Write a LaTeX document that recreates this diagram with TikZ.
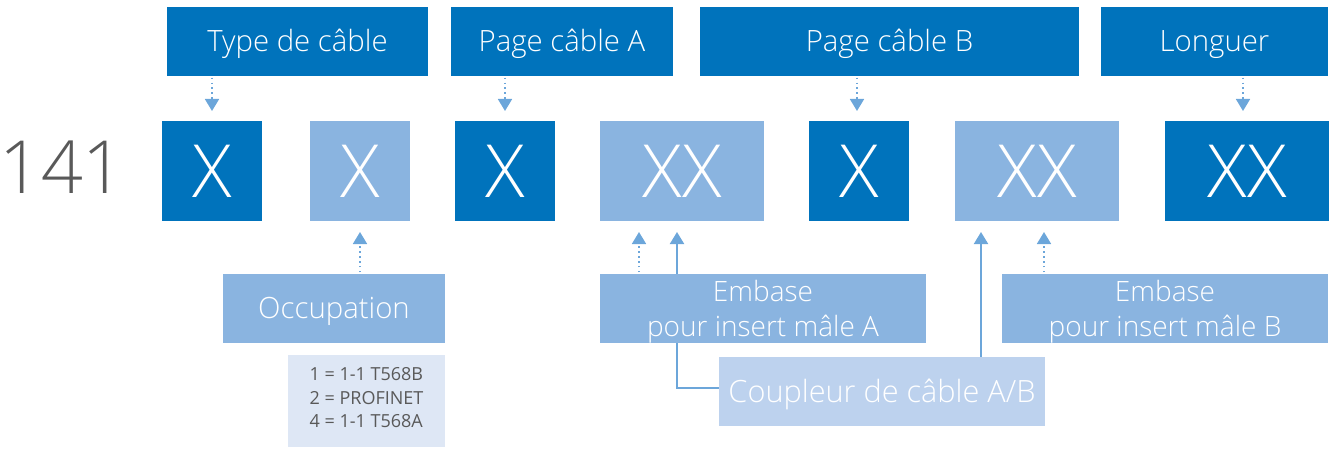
\documentclass[tikz,border=0pt]{standalone}
\usepackage{fontspec}
\IfFontExistsTF{Open Sans Light}{\setmainfont{Open Sans Light}}{\setmainfont{Open Sans}}
\newfontfamily\regfont{Open Sans}
\usetikzlibrary{arrows.meta,backgrounds}
\definecolor{cdark}{RGB}{0,115,188}
\definecolor{clight}{RGB}{138,180,224}
\definecolor{clighter}{RGB}{189,210,238}
\definecolor{clist}{RGB}{222,231,245}
\definecolor{carrow}{RGB}{108,166,218}
\definecolor{cgrey}{RGB}{89,89,89}
\begin{document}
\begin{tikzpicture}[x=0.75pt,y=-0.75pt,
  box/.style={inner sep=0pt, outer sep=0pt, text=white, align=center},
  hdr/.style={box, fill=cdark, minimum height=51.75pt, font=\fontsize{22}{26}\selectfont, text height=15.7pt, text depth=0pt},
  dig/.style={box, minimum height=75pt, font=\fontsize{55}{60}\selectfont, text height=39.3pt, text depth=0pt},
  dd/.style={dig, fill=cdark},
  dl/.style={dig, fill=clight},
  wone/.style={minimum width=75pt},
  wtwo/.style={minimum width=123pt},
  embase/.style={box, fill=clight, minimum width=244.5pt, minimum height=51.75pt},
  embtext/.style={inner sep=0pt, text=white, align=center, font=\fontsize{21}{26}\selectfont},
  occ/.style={box, fill=clight, minimum width=166.5pt, minimum height=51.75pt, font=\fontsize{22}{26}\selectfont, text height=15.7pt, text depth=0pt},
  coup/.style={box, fill=clighter, minimum width=244.5pt, minimum height=51.75pt, font=\fontsize{23}{27}\selectfont, text height=16.4pt, text depth=0pt},
  listbox/.style={inner sep=0pt, fill=clist, minimum width=117.75pt, minimum height=69pt},
  listtext/.style={inner sep=0pt, text=cgrey, align=left, font=\regfont\fontsize{13.5}{15.4}\selectfont},
  tipa/.style={-{Triangle[length=9pt,width=10.5pt]}},
  dotc/.style={draw=carrow, line width=1.3pt, dash pattern=on 1.3pt off 2.4pt, tipa},
  solc/.style={draw=carrow, line width=1.5pt, tipa}
]
\useasboundingbox (0,0) rectangle (1335,449);

% header boxes
\node[hdr, minimum width=195.75pt] (h1) at (297.5,41.5) {Type de câble};
\node[hdr, minimum width=166.5pt]  (h2) at (562,41.5)   {Page câble A};
\node[hdr, minimum width=284.25pt] (h3) at (889.5,41.5) {Page câble B};
\node[hdr, minimum width=170.25pt] (h4) at (1214.5,41.5){Longuer};

% number
\node[inner sep=0pt, text=cgrey, font=\fontsize{55}{60}\selectfont, text height=39.3pt, text depth=0pt] (num) at (62,167) {141};

% code boxes
\node[dd, wone] (b1) at (212,171)  {X};
\node[dl, wone] (b2) at (360,171)  {X};
\node[dd, wone] (b3) at (505,171)  {X};
\node[dl, wtwo] (b4) at (682,171)  {XX};
\node[dd, wone] (b5) at (859,171)  {X};
\node[dl, wtwo] (b6) at (1037,171) {XX};
\node[dd, wtwo] (b7) at (1247,171) {XX};

% lower boxes
\node[occ] (oc) at (334,308.5) {Occupation};
\node[listbox] (li) at (366.5,401) {};
\node[listtext] (lit) at (366.5,398) {1 = 1-1 T568B\\[2.2pt]2 = PROFINET\\[2.2pt]4 = 1-1 T568A};
\node[embase] (ea) at (763,308.5) {};
\node[embtext] (eat) at (763,312) {Embase\\pour insert mâle A};
\node[embase] (eb) at (1165,308.5) {};
\node[embtext] (ebt) at (1165,312) {Embase\\pour insert mâle B};
\node[coup] (cp) at (882,391.5) {Coupleur de câble A/B};

% connector anchor points
\coordinate (pa) at ([xshift=29.25pt]b4.south west);
\coordinate (pb) at ([xshift=57.75pt]b4.south west);
\coordinate (pc) at ([xshift=19.5pt]b6.south west);
\coordinate (pd) at ([xshift=66.75pt]b6.south west);
\coordinate (t5) at ([xshift=-1.5pt]b5.north);
\coordinate (t7) at ([xshift=-3pt]b7.north);

\begin{scope}[on background layer]
  % top arrows
  \draw[dotc, shorten <=1.2pt, shorten >=7.5pt] (b1.north |- h1.south) -- (b1.north);
  \draw[dotc, shorten <=1.2pt, shorten >=7.5pt] (b3.north |- h2.south) -- (b3.north);
  \draw[dotc, shorten <=1.2pt, shorten >=7.5pt] (t5 |- h3.south) -- (t5);
  \draw[dotc, shorten <=1.2pt, shorten >=7.5pt] (t7 |- h4.south) -- (t7);
  % bottom arrows
  \draw[dotc, shorten <=1.2pt, shorten >=8.25pt] (b2.south |- oc.north) -- (b2.south);
  \draw[dotc, shorten <=1.2pt, shorten >=8.25pt] (pa |- ea.north) -- (pa);
  \draw[dotc, shorten <=1.2pt, shorten >=8.25pt] (pd |- eb.north) -- (pd);
  \draw[solc, shorten >=8.25pt] ([yshift=2.6pt]cp.west) -| (pb);
  \draw[solc, shorten >=8.25pt] (pc |- cp.north) -- (pc);
\end{scope}
\end{tikzpicture}
\end{document}
